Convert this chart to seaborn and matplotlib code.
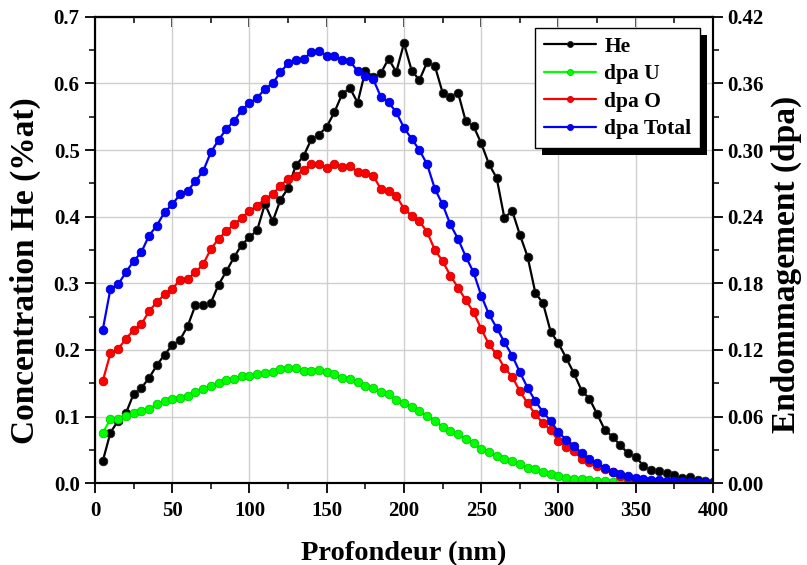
import numpy as np
import pandas as pd
import matplotlib
matplotlib.use("Agg")
import matplotlib.pyplot as plt
import matplotlib.patches as mpatches
from matplotlib.ticker import MultipleLocator, FormatStrFormatter
import seaborn as sns

sns.set_style("ticks")
plt.rcParams["font.family"] = ["Liberation Serif", "DejaVu Serif"]
plt.rcParams["font.weight"] = "bold"
plt.rcParams["axes.labelweight"] = "bold"
plt.rcParams["axes.labelcolor"] = "black"
plt.rcParams["text.color"] = "black"

# depth (nm)
depth = [5, 10, 15, 20, 25, 30, 35, 40, 45, 50, 55, 60, 65, 70, 75, 80,
         85, 90, 95, 100, 105, 110, 115, 120, 125, 130, 135, 140, 145, 150,
         155, 160, 165, 170, 175, 180, 185, 190, 195, 200, 205, 210, 215,
         220, 225, 230, 235, 240, 245, 250, 255, 260, 265, 270, 275, 280,
         285, 290, 295, 300, 305, 310, 315, 320, 325, 330, 335, 340, 345,
         350, 355, 360, 365, 370, 375, 380, 385, 390, 395, 400]

# He concentration (%at), left axis
he = [0.033, 0.076, 0.094, 0.105, 0.134, 0.143, 0.158, 0.177, 0.193, 0.207,
      0.215, 0.236, 0.267, 0.267, 0.271, 0.298, 0.318, 0.339, 0.358, 0.369,
      0.380, 0.419, 0.393, 0.425, 0.443, 0.477, 0.491, 0.516, 0.523, 0.535,
      0.557, 0.584, 0.593, 0.571, 0.619, 0.610, 0.615, 0.637, 0.617, 0.660,
      0.619, 0.605, 0.632, 0.626, 0.586, 0.580, 0.586, 0.543, 0.536, 0.510,
      0.479, 0.458, 0.398, 0.409, 0.373, 0.340, 0.286, 0.270, 0.227, 0.210,
      0.188, 0.165, 0.139, 0.127, 0.104, 0.080, 0.070, 0.057, 0.045, 0.040,
      0.026, 0.020, 0.018, 0.015, 0.012, 0.008, 0.009, 0.005, 0.003, 0.002]

# damage (dpa), right axis
dpa_u = [0.045, 0.058, 0.058, 0.061, 0.063, 0.065, 0.067, 0.071, 0.074, 0.076,
         0.077, 0.079, 0.082, 0.085, 0.088, 0.090, 0.093, 0.094, 0.097, 0.097,
         0.098, 0.099, 0.100, 0.103, 0.104, 0.104, 0.101, 0.101, 0.102, 0.100,
         0.098, 0.095, 0.094, 0.091, 0.088, 0.086, 0.082, 0.080, 0.075, 0.072,
         0.069, 0.065, 0.061, 0.056, 0.051, 0.047, 0.044, 0.040, 0.036, 0.031,
         0.028, 0.025, 0.022, 0.020, 0.017, 0.014, 0.013, 0.010, 0.008, 0.007,
         0.005, 0.004, 0.0036, 0.003, 0.0024, 0.0018, 0.0012, 0.0009, 0.0006, 0.0006,
         0.0004, 0.0003, 0.0002, 0.0002, 0.0001, 0.0001, 0.0001, 0.0001, 0.0001, 0.0001]

dpa_o = [0.092, 0.117, 0.121, 0.130, 0.138, 0.143, 0.155, 0.163, 0.170, 0.175,
         0.183, 0.184, 0.190, 0.197, 0.211, 0.220, 0.227, 0.233, 0.239, 0.245,
         0.250, 0.256, 0.260, 0.268, 0.274, 0.277, 0.282, 0.287, 0.287, 0.284,
         0.287, 0.285, 0.286, 0.280, 0.279, 0.277, 0.265, 0.263, 0.259, 0.247,
         0.241, 0.236, 0.226, 0.210, 0.200, 0.187, 0.176, 0.165, 0.154, 0.139,
         0.125, 0.116, 0.104, 0.096, 0.083, 0.072, 0.062, 0.054, 0.048, 0.038,
         0.033, 0.029, 0.022, 0.019, 0.016, 0.013, 0.010, 0.007, 0.005, 0.004,
         0.003, 0.0024, 0.0018, 0.0015, 0.0012, 0.0009, 0.0006, 0.0006, 0.0005, 0.0003]

dpa_total = [0.138, 0.175, 0.179, 0.190, 0.200, 0.208, 0.223, 0.232, 0.244, 0.251,
             0.260, 0.263, 0.272, 0.281, 0.298, 0.309, 0.319, 0.326, 0.336, 0.342,
             0.347, 0.355, 0.360, 0.370, 0.378, 0.381, 0.382, 0.388, 0.389, 0.385,
             0.385, 0.381, 0.380, 0.371, 0.367, 0.364, 0.348, 0.343, 0.334, 0.320,
             0.310, 0.300, 0.287, 0.265, 0.251, 0.233, 0.220, 0.204, 0.190, 0.169,
             0.152, 0.140, 0.127, 0.115, 0.100, 0.086, 0.074, 0.064, 0.056, 0.046,
             0.039, 0.034, 0.027, 0.022, 0.018, 0.014, 0.010, 0.008, 0.007, 0.005,
             0.004, 0.003, 0.003, 0.0024, 0.002, 0.002, 0.001, 0.001, 0.001, 0.0006]

df = pd.DataFrame({"depth": depth, "He": he, "dpa U": dpa_u,
                   "dpa O": dpa_o, "dpa Total": dpa_total})

fig = plt.figure(figsize=(8.07, 5.65), dpi=100)
fig.subplots_adjust(left=0.1177, right=0.8835, bottom=0.1446, top=0.9704)
ax = fig.add_subplot(111)
ax2 = ax.twinx()

style = dict(marker="o", markersize=6.2, linewidth=1.6, estimator=None)
sns.lineplot(data=df, x="depth", y="He", ax=ax, color="black",
             markeredgecolor="#222222", markeredgewidth=0.6, label="He",
             legend=False, **style)
sns.lineplot(data=df, x="depth", y="dpa U", ax=ax2, color="#00ff00",
             markeredgecolor="#00cc00", markeredgewidth=0.6, label="dpa U",
             legend=False, **style)
sns.lineplot(data=df, x="depth", y="dpa O", ax=ax2, color="#ff0000",
             markeredgecolor="#cc0000", markeredgewidth=0.6, label="dpa O",
             legend=False, **style)
sns.lineplot(data=df, x="depth", y="dpa Total", ax=ax2, color="#0000ff",
             markeredgecolor="#0000cc", markeredgewidth=0.6, label="dpa Total",
             legend=False, **style)

ax.set_xlim(0, 400)
ax.set_ylim(0, 0.7)
ax2.set_ylim(0, 0.42)

ax.xaxis.set_major_locator(MultipleLocator(50))
ax.xaxis.set_minor_locator(MultipleLocator(25))
ax.yaxis.set_major_locator(MultipleLocator(0.1))
ax.yaxis.set_minor_locator(MultipleLocator(0.05))
ax.yaxis.set_major_formatter(FormatStrFormatter("%.1f"))
ax2.yaxis.set_major_locator(MultipleLocator(0.06))
ax2.yaxis.set_minor_locator(MultipleLocator(0.03))
ax2.yaxis.set_major_formatter(FormatStrFormatter("%.2f"))

ax.grid(True, which="major", color="#cfcfcf", linewidth=1.0)
ax.set_axisbelow(True)

for a in (ax, ax2):
    for sp in a.spines.values():
        sp.set_linewidth(1.5)
        sp.set_color("black")
        sp.set_visible(True)

tick_kw = dict(color="black", labelcolor="black", labelsize=15)
ax.tick_params(axis="both", which="major", direction="out", length=7, width=1.3, pad=4, **tick_kw)
ax.tick_params(axis="both", which="minor", direction="out", length=4, width=1.3)
ax.tick_params(axis="x", pad=6)
ax2.tick_params(axis="y", which="major", direction="out", length=7, width=1.3, pad=3, **tick_kw)
ax2.tick_params(axis="y", which="minor", direction="out", length=4, width=1.3)

top = ax.secondary_xaxis("top")
top.xaxis.set_major_locator(MultipleLocator(50))
top.xaxis.set_minor_locator(MultipleLocator(25))
top.tick_params(axis="x", which="major", direction="in", length=7, width=1.3, labeltop=False)
top.tick_params(axis="x", which="minor", direction="in", length=4, width=1.3)
top.spines["top"].set_linewidth(1.5)

ax.set_xlabel("Profondeur (nm)", fontsize=20.5, labelpad=14)
ax.set_ylabel("Concentration He (%at)", fontsize=24)
ax2.set_ylabel("Endommagement (dpa)", fontsize=24)
ax.yaxis.set_label_coords(-0.087, 0.455)
ax2.yaxis.set_label_coords(1.093, 0.47)

h1, l1 = ax.get_legend_handles_labels()
h2, l2 = ax2.get_legend_handles_labels()
leg = ax2.legend(h1 + h2, l1 + l2, loc="upper right", bbox_to_anchor=(0.979, 0.976),
                 borderaxespad=0, fancybox=False, framealpha=1, edgecolor="black",
                 fontsize=15.5, handlelength=2.4, handletextpad=0.4,
                 labelspacing=0.35, borderpad=0.4, markerscale=0.7)
leg.get_frame().set_linewidth(1.0)
leg.set_zorder(10)

# solid black drop shadow behind the legend box
fig.canvas.draw()
bb = leg.get_frame().get_window_extent()
shadow = mpatches.Rectangle((bb.x0 + 7, bb.y0 - 7), bb.width, bb.height,
                            transform=matplotlib.transforms.IdentityTransform(),
                            facecolor="black", edgecolor="none", zorder=9, clip_on=False)
ax2.add_artist(shadow)

fig.savefig("out.png", dpi=100)
